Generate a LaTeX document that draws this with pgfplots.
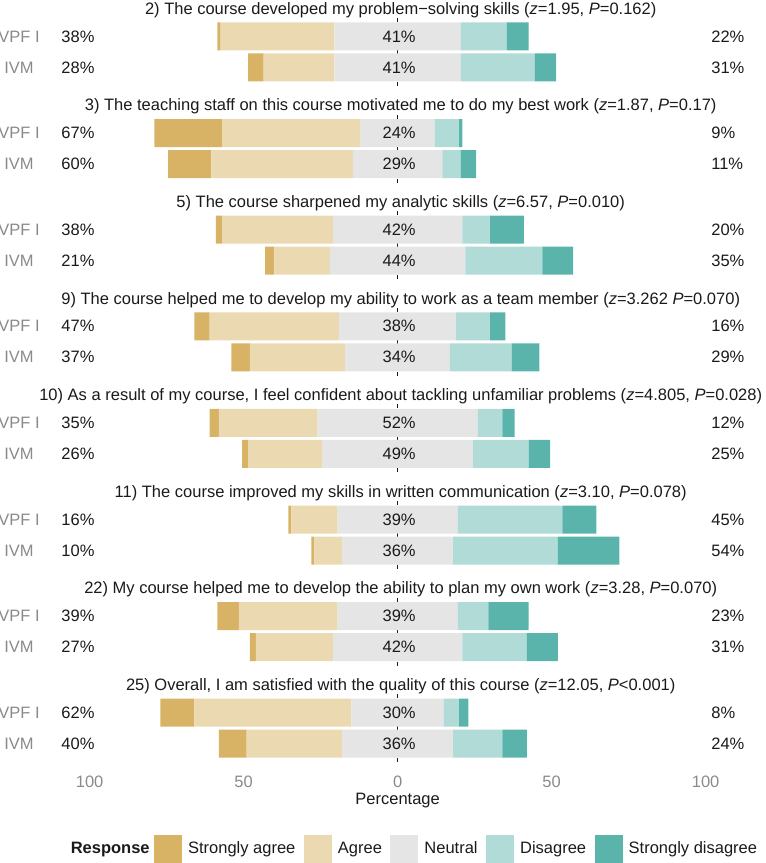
\documentclass[border=0pt]{standalone}
\usepackage{fontspec}
\setmainfont{Liberation Sans}
\usepackage{pgfplots}
\usepackage{pgfplotstable}
\pgfplotsset{compat=1.18}
\definecolor{csa}{HTML}{D8B365}
\definecolor{ca}{HTML}{EBD9B1}
\definecolor{cn}{HTML}{E5E5E5}
\definecolor{cd}{HTML}{B0DBD7}
\definecolor{csd}{HTML}{5AB4AC}
\definecolor{tgray}{HTML}{8A8A8A}
\definecolor{tdark}{HTML}{1A1A1A}
% x is shifted by +100: position 100 is the 0 line; base = 100 - (sa + a + n/2)
\pgfplotstableread{
y base sa a n d sd
36.5 41.5 1 37 41 15 7
67.5 51.5 5 23 41 24 7
133.1 21 22 45 24 8 1
164.1 25.5 14 46 29 6 5
229.7 41 2 36 42 9 11
260.7 57 3 18 44 25 10
326.3 34 5 42 38 11 5
357.3 46 6 31 34 20 9
422.9 39 3 32 52 8 4
453.9 49.5 2 24 49 18 7
519.5 64.5 1 15 39 34 11
550.5 72 1 9 36 34 20
616.1 41.5 7 32 39 10 13
647.1 52 2 25 42 21 10
712.7 23 11 51 30 5 3
743.7 42 9 31 36 16 8
}\datatable
\pgfplotsset{mylegend/.style={legend image code/.code={\fill[##1] (0bp,-14bp) rectangle (28bp,14bp);}}}
\newcommand\rowcoord[2]{%
  \coordinate (L#1) at (axis cs:-9.2,#2);
  \coordinate (C#1) at (axis cs:100.5,#2);
  \coordinate (R#1) at (axis cs:201.8,#2);}
\newcommand\rowlab[4]{%
  \node[anchor=west,text=tdark,inner xsep=0pt] at (L#1) {#2\%};
  \node[anchor=center,text=tdark] at (C#1) {#3\%};
  \node[anchor=west,text=tdark,inner xsep=0pt] at (R#1) {#4\%};}
\newcommand\paneltitle[2]{%
  \node[anchor=base,text=tdark] at (axis cs:101.0,#1) {#2};}
\newcommand\zeroline[2]{%
  \draw[tdark, line width=1.7bp, dash pattern=on 4bp off 4bp] (axis cs:100,#1) -- (axis cs:100,#2);}
\begin{document}
\fontsize{16.5bp}{19bp}\selectfont
\begin{tikzpicture}
\useasboundingbox (0,0) rectangle (766bp,863bp);
\begin{axis}[
  at={(52.64bp,95bp)}, anchor=south west,
  width=696.08bp, height=768bp, scale only axis,
  xmin=-12, xmax=214, ymin=0, ymax=768, y dir=reverse,
  xbar stacked, bar width=28,
  reverse stacked plots=false,
  clip=false,
  axis line style={draw=none},
  tick style={draw=none},
  major tick length=0pt,
  xtick={0,50,100,150,200}, xticklabels={100,50,0,50,100},
  xticklabel style={text=tgray, anchor=base, yshift=-19.4bp},
  ytick={36.5,67.5,133.1,164.1,229.7,260.7,326.3,357.3,422.9,453.9,519.5,550.5,616.1,647.1,712.7,743.7},
  yticklabels={VPF I,IVM,VPF I,IVM,VPF I,IVM,VPF I,IVM,VPF I,IVM,VPF I,IVM,VPF I,IVM,VPF I,IVM},
  yticklabel style={text=tgray, anchor=center, xshift=-33.6bp},
  /pgf/number format/assume math mode=true,
  xlabel={Percentage},
  xlabel style={at={(axis description cs:0.4956,0)}, anchor=base, yshift=-36.5bp, text=tdark},
  legend columns=-1,
  legend style={at={(axis cs:-9.1,849)}, anchor=west, draw=none, fill=none,
    nodes={inner xsep=0pt, inner ysep=2bp, text=tdark},
    /tikz/every odd column/.append style={column sep=6bp},
    /tikz/every even column/.append style={column sep=8.5bp}},
]
\zeroline{18}{86}
\zeroline{114.6}{182.6}
\zeroline{211.2}{279.2}
\zeroline{307.8}{375.8}
\zeroline{404.4}{472.4}
\zeroline{501}{569}
\zeroline{597.6}{665.6}
\zeroline{694.2}{762.2}
\addplot[draw=none, fill=none, legend image code/.code={}] table[x=base,y=y]{\datatable};
\addlegendentry{\textbf{Response}\hspace*{-4bp}}
\addplot[mylegend, draw=none, fill=csa] table[x=sa,y=y]{\datatable};
\addlegendentry{Strongly agree}
\addplot[mylegend, draw=none, fill=ca] table[x=a,y=y]{\datatable};
\addlegendentry{Agree}
\addplot[mylegend, draw=none, fill=cn] table[x=n,y=y]{\datatable};
\addlegendentry{Neutral}
\addplot[mylegend, draw=none, fill=cd] table[x=d,y=y]{\datatable};
\addlegendentry{Disagree}
\addplot[mylegend, draw=none, fill=csd] table[x=sd,y=y]{\datatable};
\addlegendentry{Strongly disagree}
\paneltitle{14.3}{2) The course developed my problem−solving skills (\textit{z}=1.95, \textit{P}=0.162)}
\paneltitle{110.9}{3) The teaching staff on this course motivated me to do my best work (\textit{z}=1.87, \textit{P}=0.17)}
\paneltitle{207.5}{5) The course sharpened my analytic skills (\textit{z}=6.57, \textit{P}=0.010)}
\paneltitle{304.1}{9) The course helped me to develop my ability to work as a team member (\textit{z}=3.262 \textit{P}=0.070)}
\paneltitle{400.7}{10) As a result of my course, I feel confident about tackling unfamiliar problems (\textit{z}=4.805, \textit{P}=0.028)}
\paneltitle{497.3}{11) The course improved my skills in written communication (\textit{z}=3.10, \textit{P}=0.078)}
\paneltitle{593.9}{22) My course helped me to develop the ability to plan my own work (\textit{z}=3.28, \textit{P}=0.070)}
\paneltitle{690.5}{25) Overall, I am satisfied with the quality of this course (\textit{z}=12.05, \textit{P}<0.001)}
\rowcoord{1}{36.5}
\rowcoord{2}{67.5}
\rowcoord{3}{133.1}
\rowcoord{4}{164.1}
\rowcoord{5}{229.7}
\rowcoord{6}{260.7}
\rowcoord{7}{326.3}
\rowcoord{8}{357.3}
\rowcoord{9}{422.9}
\rowcoord{10}{453.9}
\rowcoord{11}{519.5}
\rowcoord{12}{550.5}
\rowcoord{13}{616.1}
\rowcoord{14}{647.1}
\rowcoord{15}{712.7}
\rowcoord{16}{743.7}
\end{axis}
\rowlab{1}{38}{41}{22}
\rowlab{2}{28}{41}{31}
\rowlab{3}{67}{24}{9}
\rowlab{4}{60}{29}{11}
\rowlab{5}{38}{42}{20}
\rowlab{6}{21}{44}{35}
\rowlab{7}{47}{38}{16}
\rowlab{8}{37}{34}{29}
\rowlab{9}{35}{52}{12}
\rowlab{10}{26}{49}{25}
\rowlab{11}{16}{39}{45}
\rowlab{12}{10}{36}{54}
\rowlab{13}{39}{39}{23}
\rowlab{14}{27}{42}{31}
\rowlab{15}{62}{30}{8}
\rowlab{16}{40}{36}{24}
\end{tikzpicture}
\end{document}
